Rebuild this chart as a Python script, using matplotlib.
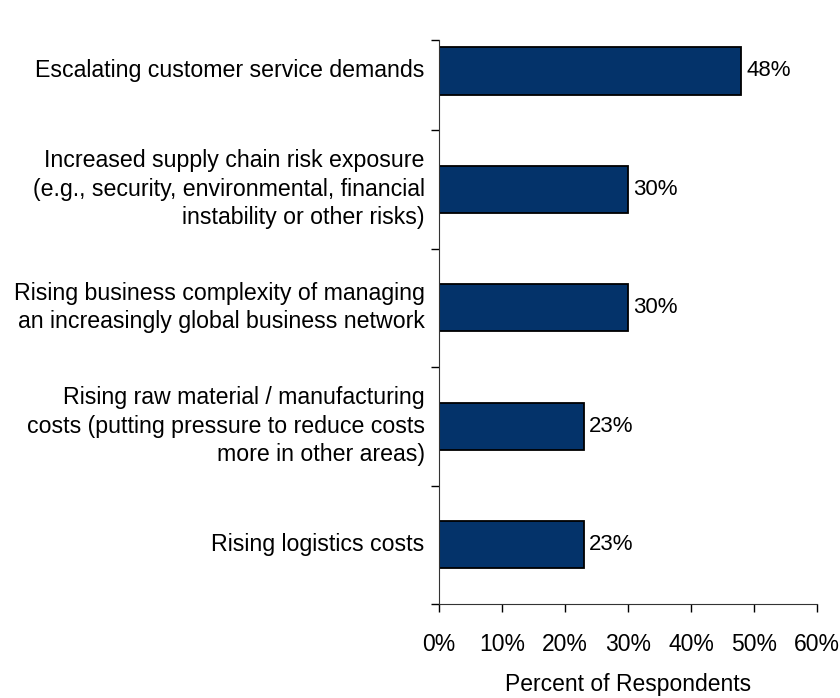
import matplotlib.pyplot as plt

plt.rcParams['font.family'] = ['Liberation Sans', 'DejaVu Sans']

categories = [
    "Escalating customer service demands",
    "Increased supply chain risk exposure\n(e.g., security, environmental, financial\ninstability or other risks)",
    "Rising business complexity of managing\nan increasingly global business network",
    "Rising raw material / manufacturing\ncosts (putting pressure to reduce costs\nmore in other areas)",
    "Rising logistics costs",
]
values = [48, 30, 30, 23, 23]
xticks = [0, 10, 20, 30, 40, 50, 60]

fig = plt.figure(figsize=(8.4, 6.98), dpi=100)
ax = fig.add_axes([439 / 840, 1 - 604 / 698, 378 / 840, 564 / 698])

pos = list(range(len(categories)))
ax.barh(pos, values, height=0.4, color='#04336a', edgecolor='black', linewidth=1.3)

for p, v in zip(pos, values):
    ax.text(v + 0.8, p, f"{v}%", va='center', ha='left', fontsize=16)

ax.set_xlim(0, 60)
ax.set_ylim(4.5, -0.26)
ax.set_xticks(xticks)
ax.set_xticklabels([f"{t}%" for t in xticks], fontsize=16.5)
ax.tick_params(axis='x', direction='out', length=6, width=1, pad=15)

# category labels sit between the boundary ticks
ax.set_yticks([-0.26, 0.5, 1.5, 2.5, 3.5, 4.5])
ax.set_yticklabels([])
ax.tick_params(axis='y', direction='out', length=6, width=1)
for p, c in zip(pos, categories):
    ax.text(-0.038, p, c, transform=ax.get_yaxis_transform(), ha='right',
            va='center', fontsize=16.7, linespacing=1.3)

ax.set_xlabel("Percent of Respondents", fontsize=16.5, labelpad=12)

ax.spines['top'].set_visible(False)
ax.spines['right'].set_visible(False)
ax.spines['left'].set_color('#333333')
ax.spines['bottom'].set_color('#333333')

fig.savefig("out.png", dpi=100)
